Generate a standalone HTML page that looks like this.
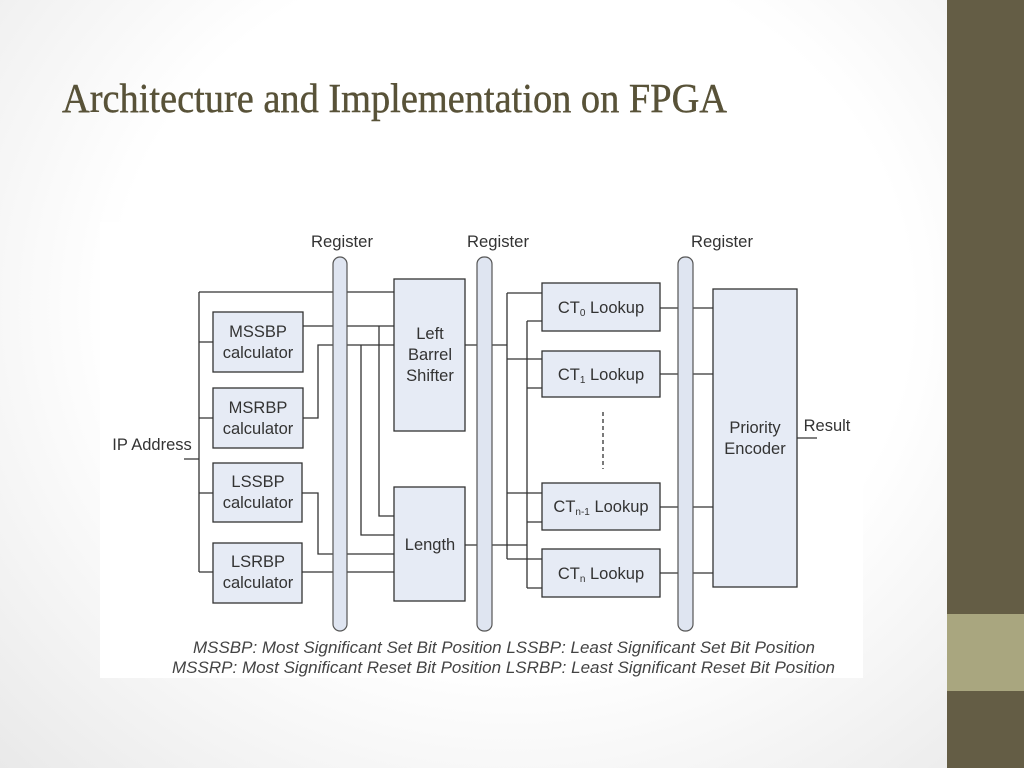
<!DOCTYPE html>
<html><head><meta charset="utf-8"><style>
html,body{margin:0;padding:0;width:1024px;height:768px;overflow:hidden}
body{background:radial-gradient(ellipse at 50% 40%,#ffffff 55%,#e9e9e9 100%)}
</style></head><body>
<svg width="1024" height="768" viewBox="0 0 1024 768" xmlns="http://www.w3.org/2000/svg" style="position:absolute;left:0;top:0">
<rect x="947" y="0" width="77" height="768" fill="#645d45"/>
<rect x="947" y="614" width="77" height="77" fill="#a9a67f"/>
<text x="62" y="112" font-family="Liberation Serif, serif" font-size="41" fill="#585238" stroke="#585238" stroke-width="0.4" textLength="665" lengthAdjust="spacingAndGlyphs">Architecture and Implementation on FPGA</text>
<rect x="100" y="222" width="763" height="456" fill="#fff"/>
<g font-family="Liberation Sans, sans-serif" font-size="16.5" fill="#333" text-anchor="middle">
<text x="342" y="247" textLength="62" lengthAdjust="spacingAndGlyphs">Register</text>
<text x="498" y="247" textLength="62" lengthAdjust="spacingAndGlyphs">Register</text>
<text x="722" y="247" textLength="62" lengthAdjust="spacingAndGlyphs">Register</text>
</g>
<g stroke="#333" stroke-width="1.3" fill="none">
<path d="M184 459H199M199 292V572M199 292H394M199 342H213M199 418H213M199 493H213M199 572H213"/>
<path d="M303 326H394M379 326V516H394"/>
<path d="M303 418H318V345H394M361 345V535H394"/>
<path d="M302 493H318V554H394"/>
<path d="M302 572H394"/>
<path d="M465 345H507M465 545H527"/>
<path d="M507 293V559M507 293H542M507 359H542M507 493H542M507 559H542"/>
<path d="M527 321V588M527 321H542M527 388H542M527 522H542M527 588H542"/>
<path d="M660 308H713M660 374H713M660 507H713M660 573H713"/>
<path d="M797 438H817"/>
<path d="M603 412V469" stroke-dasharray="4,3"/>
</g>
<g fill="#dfe5f1" stroke="#555" stroke-width="1.2">
<rect x="333" y="257" width="14" height="374" rx="7"/>
<rect x="477" y="257" width="15" height="374" rx="7"/>
<rect x="678" y="257" width="15" height="374" rx="7"/>
</g>
<g fill="#e6ebf5" stroke="#333" stroke-width="1.3">
<rect x="213" y="312" width="90" height="60"/>
<rect x="213" y="388" width="90" height="60"/>
<rect x="213" y="463" width="89" height="59"/>
<rect x="213" y="543" width="89" height="60"/>
<rect x="394" y="279" width="71" height="152"/>
<rect x="394" y="487" width="71" height="114"/>
<rect x="542" y="283" width="118" height="48"/>
<rect x="542" y="351" width="118" height="46"/>
<rect x="542" y="483" width="118" height="47"/>
<rect x="542" y="549" width="118" height="48"/>
<rect x="713" y="289" width="84" height="298"/>
</g>
<g font-family="Liberation Sans, sans-serif" font-size="16.5" fill="#333" text-anchor="middle">
<text x="258" y="337">MSSBP</text><text x="258" y="358">calculator</text>
<text x="258" y="413">MSRBP</text><text x="258" y="434">calculator</text>
<text x="258" y="487">LSSBP</text><text x="258" y="508">calculator</text>
<text x="258" y="567">LSRBP</text><text x="258" y="588">calculator</text>
<text x="430" y="339">Left</text><text x="430" y="360">Barrel</text><text x="430" y="381">Shifter</text>
<text x="430" y="550">Length</text>
<text x="601" y="313">CT<tspan font-size="10" dy="3">0</tspan><tspan dy="-3"> Lookup</tspan></text>
<text x="601" y="380">CT<tspan font-size="10" dy="3">1</tspan><tspan dy="-3"> Lookup</tspan></text>
<text x="601" y="512">CT<tspan font-size="10" dy="3">n-1</tspan><tspan dy="-3"> Lookup</tspan></text>
<text x="601" y="579">CT<tspan font-size="10" dy="3">n</tspan><tspan dy="-3"> Lookup</tspan></text>
<text x="755" y="433">Priority</text><text x="755" y="454">Encoder</text>
<text x="152" y="450">IP Address</text>
<text x="827" y="431">Result</text>
</g>
<g font-family="Liberation Sans, sans-serif" font-size="16.5" font-style="italic" fill="#444">
<text x="193" y="653" textLength="622" lengthAdjust="spacingAndGlyphs">MSSBP: Most Significant Set Bit Position  LSSBP: Least Significant Set Bit Position</text>
<text x="172" y="673" textLength="663" lengthAdjust="spacingAndGlyphs">MSSRP: Most Significant Reset Bit Position  LSRBP: Least Significant Reset Bit Position</text>
</g>
</svg>
</body></html>
